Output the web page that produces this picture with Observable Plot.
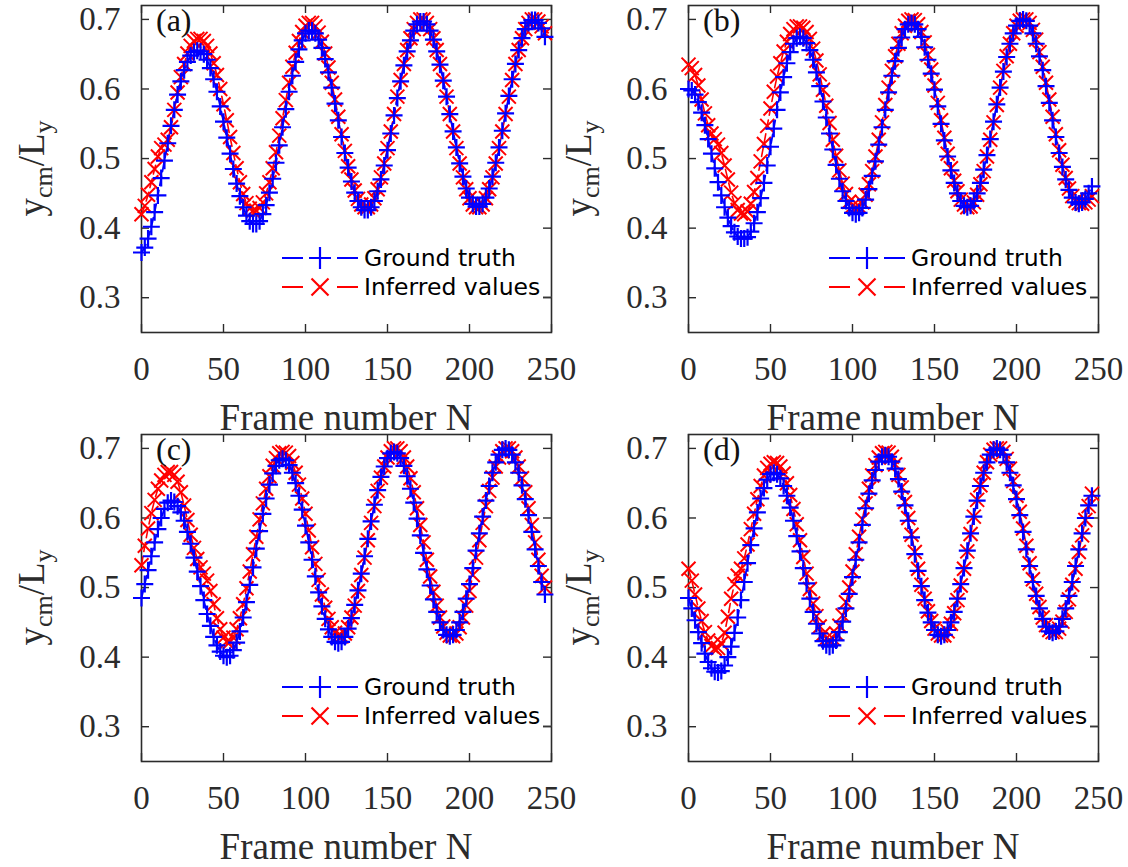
<!DOCTYPE html>
<html><head><meta charset="utf-8">
<script src="https://cdn.jsdelivr.net/npm/d3@7"></script>
<script src="https://cdn.jsdelivr.net/npm/@observablehq/plot@0.6"></script>
<style>
html,body{margin:0;padding:0;background:#fff;}
#chart{position:relative;width:1128px;height:867px;overflow:hidden;background:#fff;}
.panel{position:absolute;width:564px;height:438px;}
.panel svg{position:absolute;left:0;top:0;overflow:visible;}
</style></head>
<body><div id="chart"></div>
<script>
// ---- data ----
const frames = d3.range(0, 248, 2);
const xTicks = [0, 50, 100, 150, 200, 250];
const yTicks = [0.3, 0.4, 0.5, 0.6, 0.7];
const panelLabels = ["(a)", "(b)", "(c)", "(d)"];
const seriesNames = ["Ground truth", "Inferred values"];
const xLabel = "Frame number N";

const aTruth = [0.365,0.372,0.385,0.402,0.423,0.447,0.472,0.497,0.522,0.547,0.570,0.592,0.611,0.627,0.639,0.648,0.653,0.655,
0.654,0.650,0.642,0.630,0.614,0.596,0.575,0.553,0.530,0.507,0.485,0.464,0.446,0.430,0.418,0.410,0.406,
0.406,0.410,0.420,0.433,0.451,0.471,0.494,0.519,0.545,0.571,0.596,0.619,0.639,0.657,0.670,0.680,0.684,
0.684,0.680,0.671,0.659,0.643,0.624,0.602,0.579,0.555,0.531,0.508,0.487,0.467,0.451,0.439,0.430,0.426,
0.426,0.430,0.439,0.453,0.470,0.490,0.512,0.536,0.562,0.587,0.611,0.634,0.654,0.670,0.684,0.693,0.697,
0.697,0.693,0.684,0.671,0.654,0.635,0.612,0.589,0.564,0.539,0.516,0.493,0.474,0.457,0.444,0.435,0.431,
0.431,0.435,0.444,0.457,0.474,0.494,0.516,0.540,0.565,0.590,0.614,0.636,0.656,0.673,0.686,0.695,0.699,
0.699,0.695,0.687,0.675];
const aInferred = [0.420,0.432,0.448,0.466,0.485,0.503,0.515,0.520,0.527,0.545,0.570,0.595,0.617,0.636,0.651,0.662,0.669,0.672,
0.672,0.669,0.662,0.651,0.637,0.620,0.600,0.578,0.555,0.531,0.508,0.486,0.466,0.449,0.436,0.428,0.425,
0.425,0.429,0.437,0.450,0.466,0.486,0.509,0.533,0.558,0.584,0.609,0.632,0.652,0.669,0.682,0.691,0.695,
0.695,0.690,0.681,0.668,0.651,0.631,0.609,0.585,0.560,0.535,0.511,0.489,0.470,0.454,0.442,0.434,0.430,
0.430,0.434,0.443,0.456,0.473,0.493,0.515,0.539,0.564,0.589,0.613,0.636,0.656,0.673,0.686,0.695,0.700,
0.700,0.695,0.686,0.673,0.656,0.636,0.613,0.589,0.564,0.539,0.515,0.493,0.473,0.456,0.443,0.434,0.430,
0.430,0.434,0.443,0.456,0.473,0.493,0.515,0.539,0.564,0.589,0.613,0.636,0.656,0.673,0.686,0.695,0.700,
0.700,0.697,0.690,0.680];

const bTruth = [0.600,0.598,0.592,0.581,0.566,0.548,0.528,0.507,0.486,0.466,0.447,0.430,0.415,0.403,0.394,0.388,0.385,0.385,
0.387,0.395,0.407,0.423,0.443,0.465,0.490,0.517,0.543,0.570,0.595,0.617,0.637,0.653,0.665,0.673,0.675,
0.673,0.666,0.656,0.642,0.624,0.604,0.582,0.559,0.536,0.513,0.491,0.471,0.453,0.439,0.429,0.422,0.420,
0.422,0.429,0.441,0.456,0.475,0.496,0.520,0.545,0.570,0.595,0.619,0.640,0.659,0.674,0.686,0.693,0.695,
0.693,0.686,0.675,0.660,0.642,0.622,0.599,0.575,0.550,0.526,0.503,0.483,0.465,0.450,0.439,0.432,0.430,
0.432,0.439,0.450,0.465,0.484,0.505,0.528,0.553,0.578,0.602,0.625,0.646,0.665,0.680,0.691,0.698,0.700,
0.698,0.691,0.680,0.665,0.647,0.627,0.604,0.580,0.555,0.531,0.508,0.488,0.470,0.455,0.444,0.437,0.435,
0.437,0.442,0.450,0.460];
const bInferred = [0.635,0.630,0.620,0.605,0.585,0.565,0.548,0.536,0.528,0.520,0.508,0.490,0.470,0.451,0.436,0.426,0.421,0.420,
0.424,0.435,0.452,0.472,0.496,0.521,0.547,0.572,0.596,0.618,0.637,0.654,0.668,0.679,0.686,0.690,0.690,
0.688,0.682,0.672,0.658,0.641,0.621,0.599,0.576,0.551,0.527,0.504,0.483,0.464,0.449,0.438,0.432,0.430,
0.431,0.437,0.448,0.463,0.482,0.503,0.527,0.552,0.577,0.602,0.626,0.647,0.665,0.680,0.691,0.698,0.700,
0.699,0.693,0.682,0.667,0.649,0.628,0.605,0.580,0.555,0.530,0.507,0.486,0.468,0.453,0.441,0.434,0.430,
0.431,0.437,0.448,0.463,0.482,0.503,0.527,0.552,0.577,0.602,0.626,0.647,0.665,0.680,0.691,0.698,0.700,
0.700,0.695,0.685,0.671,0.653,0.632,0.609,0.585,0.560,0.535,0.512,0.491,0.472,0.457,0.446,0.439,0.436,
0.435,0.437,0.441,0.446];

const cTruth = [0.485,0.505,0.525,0.545,0.565,0.584,0.600,0.613,0.622,0.625,
0.623,0.617,0.608,0.596,0.580,0.563,0.543,0.523,0.502,0.482,0.462,0.445,0.429,0.417,0.408,0.402,0.400,
0.402,0.410,0.421,0.437,0.457,0.479,0.504,0.529,0.556,0.581,0.606,0.628,0.648,0.664,0.675,0.683,0.685,
0.683,0.676,0.665,0.650,0.632,0.612,0.589,0.565,0.540,0.516,0.493,0.473,0.455,0.440,0.429,0.422,0.420,
0.422,0.429,0.441,0.456,0.475,0.496,0.520,0.545,0.570,0.595,0.619,0.640,0.659,0.674,0.686,0.693,0.695,
0.693,0.686,0.675,0.660,0.642,0.622,0.599,0.575,0.550,0.526,0.503,0.483,0.465,0.450,0.439,0.432,0.430,
0.432,0.439,0.450,0.465,0.484,0.505,0.528,0.553,0.578,0.602,0.625,0.646,0.665,0.680,0.691,0.698,0.700,
0.698,0.691,0.680,0.665,0.647,0.627,0.604,0.580,0.555,0.531,0.508,0.490];
const cInferred = [0.532,0.560,0.585,0.607,0.626,0.642,0.654,0.662,0.666,0.666,
0.662,0.652,0.637,0.618,0.597,0.576,0.557,0.541,0.529,0.520,0.510,0.495,0.476,0.456,0.440,0.428,0.422,
0.422,0.428,0.440,0.456,0.476,0.499,0.523,0.548,0.573,0.598,0.621,0.642,0.660,0.675,0.686,0.693,0.695,
0.694,0.689,0.679,0.665,0.648,0.628,0.606,0.582,0.558,0.534,0.511,0.490,0.471,0.455,0.443,0.435,0.431,
0.430,0.434,0.443,0.457,0.474,0.495,0.518,0.543,0.568,0.593,0.617,0.639,0.658,0.674,0.687,0.696,0.700,
0.700,0.696,0.687,0.674,0.657,0.637,0.614,0.590,0.565,0.540,0.516,0.494,0.474,0.457,0.444,0.435,0.431,
0.430,0.434,0.443,0.457,0.474,0.495,0.518,0.543,0.568,0.593,0.617,0.639,0.658,0.674,0.687,0.696,0.700,
0.700,0.696,0.687,0.674,0.657,0.637,0.614,0.590,0.565,0.540,0.517,0.500];

const dTruth = [0.485,0.470,0.453,0.436,0.420,0.405,0.393,0.384,0.379,0.378,
0.380,0.388,0.400,0.415,0.435,0.457,0.482,0.508,0.535,0.561,0.585,0.608,0.628,0.643,0.655,0.663,0.665,
0.663,0.657,0.646,0.632,0.615,0.596,0.574,0.552,0.528,0.506,0.484,0.465,0.448,0.434,0.423,0.417,0.415,
0.417,0.424,0.436,0.451,0.470,0.491,0.515,0.540,0.565,0.590,0.614,0.635,0.654,0.669,0.681,0.688,0.690,
0.688,0.681,0.671,0.656,0.638,0.618,0.596,0.572,0.548,0.524,0.502,0.482,0.464,0.450,0.439,0.432,0.430,
0.432,0.439,0.450,0.465,0.484,0.505,0.528,0.553,0.578,0.602,0.625,0.646,0.665,0.680,0.691,0.698,0.700,
0.698,0.691,0.680,0.665,0.647,0.627,0.604,0.580,0.555,0.531,0.508,0.488,0.470,0.455,0.444,0.437,0.435,
0.437,0.444,0.455,0.470,0.488,0.508,0.531,0.555,0.578,0.600,0.618,0.632];
const dInferred = [0.527,0.510,0.490,0.470,0.452,0.436,0.424,0.416,0.412,0.413,
0.420,0.435,0.458,0.484,0.505,0.517,0.527,0.542,0.562,0.584,0.606,0.627,0.646,0.661,0.672,0.678,0.680,
0.679,0.674,0.664,0.650,0.633,0.613,0.591,0.568,0.544,0.520,0.498,0.477,0.459,0.444,0.433,0.427,0.425,
0.427,0.434,0.445,0.460,0.479,0.500,0.523,0.548,0.573,0.598,0.621,0.642,0.661,0.676,0.687,0.693,0.695,
0.694,0.688,0.677,0.662,0.644,0.623,0.600,0.576,0.551,0.527,0.504,0.484,0.466,0.452,0.441,0.434,0.431,
0.431,0.437,0.448,0.463,0.482,0.503,0.527,0.552,0.577,0.602,0.626,0.647,0.665,0.680,0.691,0.698,0.700,
0.700,0.695,0.685,0.671,0.653,0.632,0.609,0.585,0.560,0.535,0.512,0.491,0.472,0.457,0.446,0.439,0.436,
0.436,0.441,0.451,0.465,0.483,0.504,0.527,0.551,0.575,0.597,0.617,0.635];

const panels = [
  {truth: aTruth, inferred: aInferred, label: panelLabels[0], left: 0, top: 0},
  {truth: bTruth, inferred: bInferred, label: panelLabels[1], left: 547, top: 0},
  {truth: cTruth, inferred: cInferred, label: panelLabels[2], left: 0, top: 429},
  {truth: dTruth, inferred: dInferred, label: panelLabels[3], left: 547, top: 429}
];

// ---- style ----
const BLUE = "#0000ff", RED = "#ff0000", AX = "#2b2b2b";
const W = 564, H = 429, ML = 141, MR = 13, MT = 5, MB = 97;
const XD = [0, 250], YD = [0.25, 0.72];
const plotW = W - ML - MR, plotH = H - MT - MB;
const tickPx = 8;
const tx = tickPx / plotW * (XD[1] - XD[0]);
const ty = tickPx / plotH * (YD[1] - YD[0]);

function plusSym(h) { return {draw(ctx) { ctx.moveTo(-h, 0); ctx.lineTo(h, 0); ctx.moveTo(0, -h); ctx.lineTo(0, h); }}; }
function timesSym(h) { return {draw(ctx) { ctx.moveTo(-h, -h); ctx.lineTo(h, h); ctx.moveTo(-h, h); ctx.lineTo(h, -h); }}; }

const chart = document.getElementById("chart");

panels.forEach(p => {
  const truthRows = frames.map((f, i) => ({frame: f, value: p.truth[i]}));
  const infRows = frames.map((f, i) => ({frame: f, value: p.inferred[i]}));
  const div = document.createElement("div");
  div.className = "panel";
  div.style.left = p.left + "px";
  div.style.top = p.top + "px";
  chart.appendChild(div);

  const svg = Plot.plot({
    width: W, height: H,
    marginLeft: ML, marginRight: MR, marginTop: MT, marginBottom: MB,
    x: {domain: XD},
    y: {domain: YD},
    style: {background: "transparent", fontFamily: "'Liberation Serif', serif", fontSize: "33px", color: AX, overflow: "visible"},
    marks: [
      Plot.axisX(xTicks, {tickSize: 0, tickPadding: 24, fontSize: 33, label: null, fill: AX}),
      Plot.axisY(yTicks, {tickSize: 0, tickPadding: 21, fontSize: 33, label: null, fill: AX, tickFormat: d => d.toFixed(1)}),
      Plot.ruleX(xTicks, {x: d => d, y1: YD[0], y2: YD[0] + ty, stroke: AX, strokeWidth: 1.4}),
      Plot.ruleX(xTicks, {x: d => d, y1: YD[1], y2: YD[1] - ty, stroke: AX, strokeWidth: 1.4}),
      Plot.ruleY(yTicks, {y: d => d, x1: XD[0], x2: XD[0] + tx, stroke: AX, strokeWidth: 1.4}),
      Plot.ruleY(yTicks, {y: d => d, x1: XD[1], x2: XD[1] - tx, stroke: AX, strokeWidth: 1.4}),
      Plot.frame({stroke: AX, strokeWidth: 1.6}),
      Plot.line(infRows, {x: "frame", y: "value", stroke: RED, strokeWidth: 1.6, strokeDasharray: "9,5"}),
      Plot.dot(infRows, {x: "frame", y: "value", symbol: timesSym(7), fill: "none", stroke: RED, strokeWidth: 2}),
      Plot.line(truthRows, {x: "frame", y: "value", stroke: BLUE, strokeWidth: 1.8, strokeDasharray: "9,5"}),
      Plot.dot(truthRows, {x: "frame", y: "value", symbol: plusSym(8.5), fill: "none", stroke: BLUE, strokeWidth: 2.2})
    ]
  });
  div.appendChild(svg);

  // overlay: axis titles, panel label, legend
  const ov = d3.select(div).append("svg").attr("width", W).attr("height", 438)
    .style("pointer-events", "none");
  ov.append("text").attr("x", ML + plotW / 2).attr("y", 430).attr("text-anchor", "middle")
    .attr("font-family", "'Liberation Serif', serif").attr("font-size", 37).attr("fill", AX).text(xLabel);
  const yl = ov.append("text").attr("transform", `translate(44,${MT + plotH / 2}) rotate(-90)`)
    .attr("text-anchor", "middle").attr("font-family", "'Liberation Serif', serif").attr("font-size", 37).attr("fill", AX);
  yl.append("tspan").text("y");
  yl.append("tspan").attr("dy", 8).attr("font-size", 26).text("cm");
  yl.append("tspan").attr("dy", -8).text("/L");
  yl.append("tspan").attr("dy", 8).attr("font-size", 26).text("y");
  ov.append("text").attr("x", 156).attr("y", 31).attr("font-family", "'Liberation Serif', serif")
    .attr("font-size", 32).attr("fill", "#111").text(p.label);

  const leg = [
    {name: seriesNames[0], color: BLUE, cy: 258, sym: "plus"},
    {name: seriesNames[1], color: RED, cy: 287, sym: "times"}
  ];
  leg.forEach(l => {
    ov.append("line").attr("x1", 282).attr("x2", 303).attr("y1", l.cy).attr("y2", l.cy).attr("stroke", l.color).attr("stroke-width", 2);
    ov.append("line").attr("x1", 337).attr("x2", 358).attr("y1", l.cy).attr("y2", l.cy).attr("stroke", l.color).attr("stroke-width", 2);
    const h = l.sym === "plus" ? 11 : 8.5;
    const path = l.sym === "plus"
      ? `M${320 - h},${l.cy}H${320 + h}M320,${l.cy - h}V${l.cy + h}`
      : `M${320 - h},${l.cy - h}L${320 + h},${l.cy + h}M${320 - h},${l.cy + h}L${320 + h},${l.cy - h}`;
    ov.append("path").attr("d", path).attr("stroke", l.color).attr("stroke-width", 2.2).attr("fill", "none");
    ov.append("text").attr("x", 364).attr("y", l.cy).attr("dy", "0.36em").attr("font-family", "'DejaVu Sans', sans-serif")
      .attr("font-size", 23.5).attr("fill", "#000").text(l.name);
  });
  ov.append("line").attr("x1", 543).attr("x2", 552).attr("y1", 297).attr("y2", 297).attr("stroke", "#444").attr("stroke-width", 1);
});
</script>
</body></html>
